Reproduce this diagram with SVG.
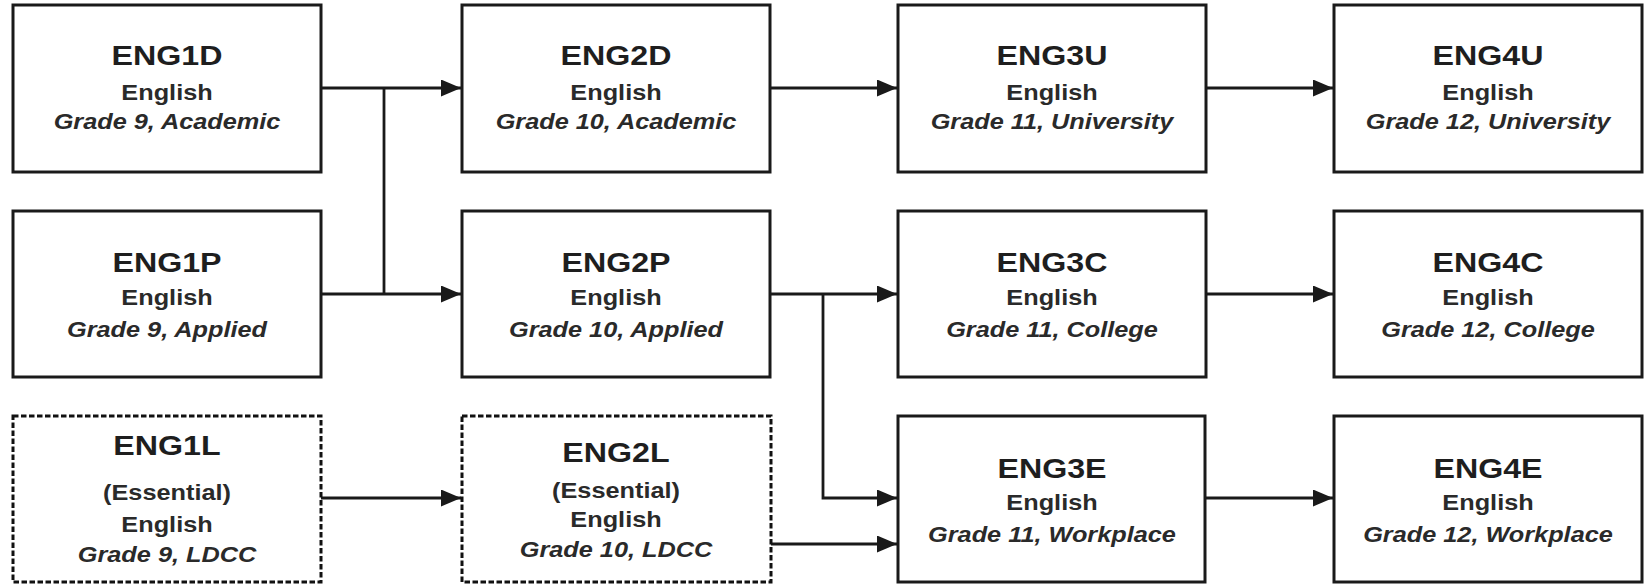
<svg xmlns="http://www.w3.org/2000/svg" width="1645" height="584" viewBox="0 0 1645 584">
<style>
.box{fill:#fff;stroke:#1a1a1a;stroke-width:3}
.dash{fill:#fff;stroke:#111;stroke-width:3;stroke-dasharray:5.5 2.5}
.code{font-family:"Liberation Sans",Arial,sans-serif;font-weight:bold;font-size:28px;fill:#1e1e1e;text-anchor:middle}
.sub{font-family:"Liberation Sans",Arial,sans-serif;font-weight:bold;font-size:22px;fill:#2a2a2a;text-anchor:middle}
.gr{font-family:"Liberation Sans",Arial,sans-serif;font-weight:bold;font-style:italic;font-size:22px;fill:#2a2a2a;text-anchor:middle}
.ln{fill:none;stroke:#1a1a1a;stroke-width:2.8}
.arr{fill:none;stroke:#1a1a1a;stroke-width:2.8;marker-end:url(#ah)}
</style>
<defs>
<marker id="ah" markerUnits="userSpaceOnUse" markerWidth="21" markerHeight="18" refX="20" refY="8.5" orient="auto">
<path d="M0,0 L20,8.5 L0,17 z" fill="#1a1a1a"/>
</marker>
</defs>
<rect width="1645" height="584" fill="#fff"/>
<g id="connectors">
<path class="arr" d="M321,88 H461"/>
<path class="arr" d="M321,294 H461"/>
<path class="ln" d="M384,88 V294"/>
<path class="arr" d="M770,88 H897"/>
<path class="arr" d="M1206,88 H1333"/>
<path class="arr" d="M770,294 H897"/>
<path class="arr" d="M823,294 V498 H897"/>
<path class="arr" d="M771,544 H897"/>
<path class="arr" d="M321,498 H461"/>
<path class="arr" d="M1206,294 H1333"/>
<path class="arr" d="M1205,498 H1333"/>
</g>
<g id="ENG1D">
<rect class="box" x="13" y="5" width="308" height="167"/>
<g transform="translate(167,0) scale(1.15,1)"><text class="code" x="0" y="65">ENG1D</text><text class="sub" x="0" y="100">English</text><text class="gr" x="0" y="129">Grade 9, Academic</text></g>
</g>
<g id="ENG2D">
<rect class="box" x="462" y="5" width="308" height="167"/>
<g transform="translate(616,0) scale(1.15,1)"><text class="code" x="0" y="65">ENG2D</text><text class="sub" x="0" y="100">English</text><text class="gr" x="0" y="129">Grade 10, Academic</text></g>
</g>
<g id="ENG3U">
<rect class="box" x="898" y="5" width="308" height="167"/>
<g transform="translate(1052,0) scale(1.15,1)"><text class="code" x="0" y="65">ENG3U</text><text class="sub" x="0" y="100">English</text><text class="gr" x="0" y="129">Grade 11, University</text></g>
</g>
<g id="ENG4U">
<rect class="box" x="1334" y="5" width="308" height="167"/>
<g transform="translate(1488,0) scale(1.15,1)"><text class="code" x="0" y="65">ENG4U</text><text class="sub" x="0" y="100">English</text><text class="gr" x="0" y="129">Grade 12, University</text></g>
</g>
<g id="ENG1P">
<rect class="box" x="13" y="211" width="308" height="166"/>
<g transform="translate(167,0) scale(1.15,1)"><text class="code" x="0" y="272">ENG1P</text><text class="sub" x="0" y="305">English</text><text class="gr" x="0" y="337">Grade 9, Applied</text></g>
</g>
<g id="ENG2P">
<rect class="box" x="462" y="211" width="308" height="166"/>
<g transform="translate(616,0) scale(1.15,1)"><text class="code" x="0" y="272">ENG2P</text><text class="sub" x="0" y="305">English</text><text class="gr" x="0" y="337">Grade 10, Applied</text></g>
</g>
<g id="ENG3C">
<rect class="box" x="898" y="211" width="308" height="166"/>
<g transform="translate(1052,0) scale(1.15,1)"><text class="code" x="0" y="272">ENG3C</text><text class="sub" x="0" y="305">English</text><text class="gr" x="0" y="337">Grade 11, College</text></g>
</g>
<g id="ENG4C">
<rect class="box" x="1334" y="211" width="308" height="166"/>
<g transform="translate(1488,0) scale(1.15,1)"><text class="code" x="0" y="272">ENG4C</text><text class="sub" x="0" y="305">English</text><text class="gr" x="0" y="337">Grade 12, College</text></g>
</g>
<g id="ENG1L">
<rect class="dash" x="13" y="416" width="308" height="166"/>
<g transform="translate(167,0) scale(1.15,1)"><text class="code" x="0" y="455">ENG1L</text><text class="sub" x="0" y="500">(Essential)</text><text class="sub" x="0" y="532">English</text><text class="gr" x="0" y="562">Grade 9, LDCC</text></g>
</g>
<g id="ENG2L">
<rect class="dash" x="462" y="416" width="309" height="166"/>
<g transform="translate(616,0) scale(1.15,1)"><text class="code" x="0" y="462">ENG2L</text><text class="sub" x="0" y="498">(Essential)</text><text class="sub" x="0" y="527">English</text><text class="gr" x="0" y="557">Grade 10, LDCC</text></g>
</g>
<g id="ENG3E">
<rect class="box" x="898" y="416" width="307" height="166"/>
<g transform="translate(1052,0) scale(1.15,1)"><text class="code" x="0" y="478">ENG3E</text><text class="sub" x="0" y="510">English</text><text class="gr" x="0" y="542">Grade 11, Workplace</text></g>
</g>
<g id="ENG4E">
<rect class="box" x="1334" y="416" width="308" height="166"/>
<g transform="translate(1488,0) scale(1.15,1)"><text class="code" x="0" y="478">ENG4E</text><text class="sub" x="0" y="510">English</text><text class="gr" x="0" y="542">Grade 12, Workplace</text></g>
</g>
</svg>
